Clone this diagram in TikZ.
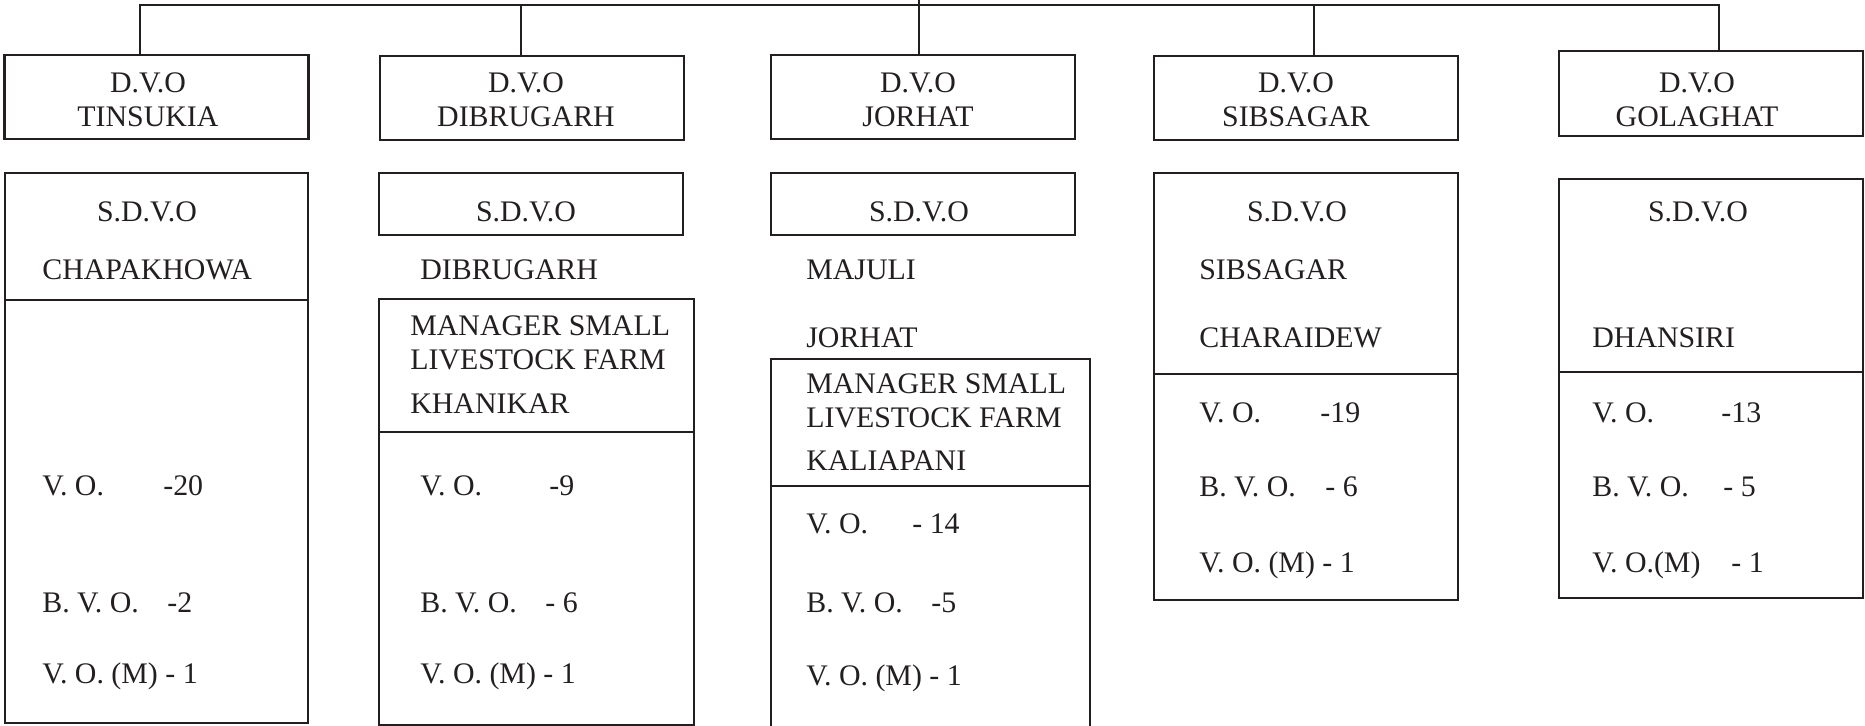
\documentclass[tikz,border=0pt]{standalone}
\usepackage{fontspec}
\setmainfont{Liberation Serif}
\usepackage{tikz}
\definecolor{ink}{RGB}{35,31,32}

\begin{document}
\begin{tikzpicture}[x=0.02cm, y=-0.02cm]
    \tikzstyle{box}=[draw=ink, line width=1.5pt, rectangle, inner sep=0pt, outer sep=0pt]
    \tikzstyle{dvo}=[box, minimum width=6.08cm, minimum height=1.68cm]
    \tikzstyle{sdvo}=[box, minimum width=6.08cm, minimum height=1.24cm]
    \tikzstyle{txt}=[text=ink, inner sep=0pt, font=\fontsize{17}{19.3}\selectfont]
    \tikzstyle{title}=[txt, align=center]
    \tikzstyle{head}=[txt, anchor=base]
    \tikzstyle{entry}=[txt, anchor=base west]
    \tikzstyle{edge2}=[draw=ink, line width=1.5pt]

    \clip (0,0) rectangle (1865,726);

    % district offices
    \node[dvo] (dvo1) at (156.5, 97) {};
    \node[dvo] (dvo2) at (532, 98) {};
    \node[dvo] (dvo3) at (923, 97) {};
    \node[dvo] (dvo4) at (1306, 98) {};
    \node[dvo, minimum height=1.70cm] (dvo5) at (1711, 93.5) {};

    \node[title] (dvo1t) at (148, 100) {D.V.O\\TINSUKIA};
    \node[title] (dvo2t) at (526, 100) {D.V.O\\DIBRUGARH};
    \node[title] (dvo3t) at (918, 100) {D.V.O\\JORHAT};
    \node[title] (dvo4t) at (1296, 100) {D.V.O\\SIBSAGAR};
    \node[title] (dvo5t) at (1697, 100) {D.V.O\\GOLAGHAT};

    % bus line
    \coordinate (b1) at (140, 5);
    \coordinate (b2) at (521, 5);
    \coordinate (b3) at (919, 0);
    \coordinate (b4) at (1314, 5);
    \coordinate (b5) at (1719, 5);

    \path[edge2] (dvo1.north -| b1) -- (b1) -- (b5) -- (dvo5.north -| b5);
    \path[edge2] (b2) -- (dvo2.north -| b2);
    \path[edge2] (b3) -- (dvo3.north -| b3);
    \path[edge2] (b4) -- (dvo4.north -| b4);

    % sub-division boxes
    \node[box, minimum width=6.06cm, minimum height=11.0cm] (sd1) at (156.5, 448) {};
    \node[sdvo] (sd2) at (531, 204) {};
    \node[sdvo] (sd3) at (923, 204) {};
    \node[box, minimum width=6.08cm, minimum height=8.54cm] (sd4) at (1306, 386.5) {};
    \node[box, minimum width=6.08cm, minimum height=8.38cm] (sd5) at (1711, 388.5) {};

    % livestock farms
    \node[box, minimum width=6.30cm, minimum height=8.52cm] (lf2) at (536.5, 512) {};
    \node[box, minimum width=6.38cm, minimum height=8.22cm] (lf3) at (930.5, 564.5) {};

    \path[edge2] (sd1.west |- 0,300) -- (sd1.east |- 0,300);
    \path[edge2] (lf2.west |- 0,432) -- (lf2.east |- 0,432);
    \path[edge2] (lf3.west |- 0,486) -- (lf3.east |- 0,486);
    \path[edge2] (sd4.west |- 0,374) -- (sd4.east |- 0,374);
    \path[edge2] (sd5.west |- 0,372) -- (sd5.east |- 0,372);

    % TINSUKIA
    \node[head] (h1) at (147, 221) {S.D.V.O};
    \node[entry] (s1) at (42, 279) {CHAPAKHOWA};
    \node[entry] (vo1) at (42, 495) {V. O.};
    \node[entry] (vo1n) at (163, 495) {-20};
    \node[entry] (bvo1) at (42, 612) {B. V. O.};
    \node[entry] (bvo1n) at (167, 612) {-2};
    \node[entry] (vom1) at (42, 683) {V. O. (M) - 1};

    % DIBRUGARH
    \node[head] (h2) at (526, 221) {S.D.V.O};
    \node[entry] (s2) at (420, 279) {DIBRUGARH};
    \node[entry] (m2a) at (410, 335) {MANAGER SMALL};
    \node[entry] (m2b) at (410, 369) {LIVESTOCK FARM};
    \node[entry] (m2c) at (410, 413) {KHANIKAR};
    \node[entry] (vo2) at (420, 495) {V. O.};
    \node[entry] (vo2n) at (549, 495) {-9};
    \node[entry] (bvo2) at (420, 612) {B. V. O.};
    \node[entry] (bvo2n) at (545, 612) {- 6};
    \node[entry] (vom2) at (420, 683) {V. O. (M) - 1};

    % JORHAT
    \node[head] (h3) at (919, 221) {S.D.V.O};
    \node[entry] (s3a) at (806, 279) {MAJULI};
    \node[entry] (s3b) at (806, 347) {JORHAT};
    \node[entry] (m3a) at (806, 393) {MANAGER SMALL};
    \node[entry] (m3b) at (806, 427) {LIVESTOCK FARM};
    \node[entry] (m3c) at (806, 470) {KALIAPANI};
    \node[entry] (vo3) at (806, 533) {V. O.};
    \node[entry] (vo3n) at (912, 533) {- 14};
    \node[entry] (bvo3) at (806, 612) {B. V. O.};
    \node[entry] (bvo3n) at (931, 612) {-5};
    \node[entry] (vom3) at (806, 685) {V. O. (M) - 1};

    % SIBSAGAR
    \node[head] (h4) at (1297, 221) {S.D.V.O};
    \node[entry] (s4a) at (1199, 279) {SIBSAGAR};
    \node[entry] (s4b) at (1199, 347) {CHARAIDEW};
    \node[entry] (vo4) at (1199, 422) {V. O.};
    \node[entry] (vo4n) at (1320, 422) {-19};
    \node[entry] (bvo4) at (1199, 496) {B. V. O.};
    \node[entry] (bvo4n) at (1325, 496) {- 6};
    \node[entry] (vom4) at (1199, 572) {V. O. (M) - 1};

    % GOLAGHAT
    \node[head] (h5) at (1698, 221) {S.D.V.O};
    \node[entry] (s5) at (1592, 347) {DHANSIRI};
    \node[entry] (vo5) at (1592, 422) {V. O.};
    \node[entry] (vo5n) at (1721, 422) {-13};
    \node[entry] (bvo5) at (1592, 496) {B. V. O.};
    \node[entry] (bvo5n) at (1723, 496) {- 5};
    \node[entry] (vom5) at (1592, 572) {V. O.(M)};
    \node[entry] (vom5n) at (1731, 572) {- 1};
\end{tikzpicture}
\end{document}
